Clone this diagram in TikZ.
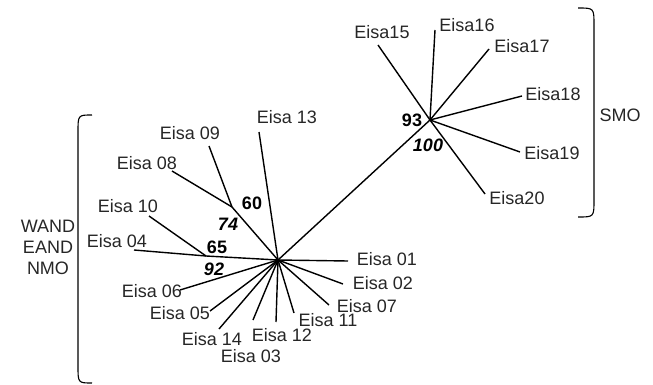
\documentclass[tikz,border=0pt]{standalone}
\usepackage{fontspec}
\setmainfont{Liberation Sans}
\begin{document}
\begin{tikzpicture}[x=1pt,y=-1pt,
  lab/.style={font=\fontsize{18}{20}\selectfont,inner sep=0pt,text=black!85},
  bs/.style={font=\fontsize{18}{20}\selectfont\bfseries,inner sep=0pt},
  bsi/.style={font=\fontsize{18}{20}\selectfont\bfseries\itshape,inner sep=0pt},
  br/.style={line width=1.4pt},
  brace/.style={line width=1.1pt}]
\useasboundingbox (0,0) rectangle (653,385);
% hubs and inner nodes
\coordinate (C1) at (278,260);
\coordinate (C2) at (430,120);
\coordinate (N60) at (232,207);
\coordinate (N65) at (206,256);
% leaf ends
\coordinate (e09) at (209,146);
\coordinate (e08) at (172,171);
\coordinate (e13) at (259,132);
\coordinate (e10) at (149,216);
\coordinate (e04) at (134,250);
\coordinate (e06) at (180,290);
\coordinate (e05) at (210,311);
\coordinate (e14) at (219,329);
\coordinate (e03) at (253,320);
\coordinate (e12) at (276,322);
\coordinate (e11) at (294,313);
\coordinate (e07) at (329,305);
\coordinate (e02) at (343,284);
\coordinate (e01) at (348,261);
\coordinate (e15) at (378,45);
\coordinate (e16) at (435,30);
\coordinate (e17) at (489,49);
\coordinate (e18) at (522,96);
\coordinate (e19) at (520,152);
\coordinate (e20) at (485,194);
% branches
\draw[br] (C1) -- (C2);
\draw[br] (C1) -- (N60);
\draw[br] (N60) -- (e09);
\draw[br] (N60) -- (e08);
\draw[br] (C1) -- (e13);
\draw[br] (C1) -- (N65);
\draw[br] (N65) -- (e10);
\draw[br] (N65) -- (e04);
\foreach \e in {e06,e05,e14,e03,e12,e11,e07,e02,e01} \draw[br] (C1) -- (\e);
\foreach \e in {e15,e16,e17,e18,e19,e20} \draw[br] (C2) -- (\e);
% labels
\node[lab] (l09) at (190,133) {Eisa 09};
\node[lab] (l08) at (147,163) {Eisa 08};
\node[lab] (l13) at (287,117) {Eisa 13};
\node[lab] (l10) at (128,206) {Eisa 10};
\node[lab] (l04) at (117,241) {Eisa 04};
\node[lab] (l06) at (152,291) {Eisa 06};
\node[lab] (l05) at (180,313) {Eisa 05};
\node[lab] (l14) at (212,339) {Eisa 14};
\node[lab] (l03) at (251,356) {Eisa 03};
\node[lab] (l12) at (282,335) {Eisa 12};
\node[lab] (l11) at (328,320) {Eisa 11};
\node[lab] (l07) at (367,306) {Eisa 07};
\node[lab] (l02) at (383,283) {Eisa 02};
\node[lab] (l01) at (387,259) {Eisa 01};
\node[lab] (l15) at (382,32) {Eisa15};
\node[lab] (l16) at (467,25) {Eisa16};
\node[lab] (l17) at (522,46) {Eisa17};
\node[lab] (l18) at (553,94) {Eisa18};
\node[lab] (l19) at (552,153) {Eisa19};
\node[lab] (l20) at (517,198) {Eisa20};
% support values
\node[bs] (b60) at (252,203) {60};
\node[bsi] (b74) at (228,224) {74};
\node[bs] (b65) at (217,247) {65};
\node[bsi] (b92) at (214,269) {92};
\node[bs] (b93) at (412,120) {93};
\node[bsi] (b100) at (428,145) {100};
% braces
\draw[brace] (578,8) .. controls (594,8) .. (594,25) -- (594,200) .. controls (594,217) .. (578,217);
\draw[brace] (92,115) .. controls (78,115) .. (78,132) -- (78,366) .. controls (78,383) .. (92,383);
\node[lab] (smo) at (620,115) {SMO};
\node[lab,align=center] (grp) at (48,247) {WAND\\[1pt]EAND\\[1pt]NMO};
\end{tikzpicture}
\end{document}
